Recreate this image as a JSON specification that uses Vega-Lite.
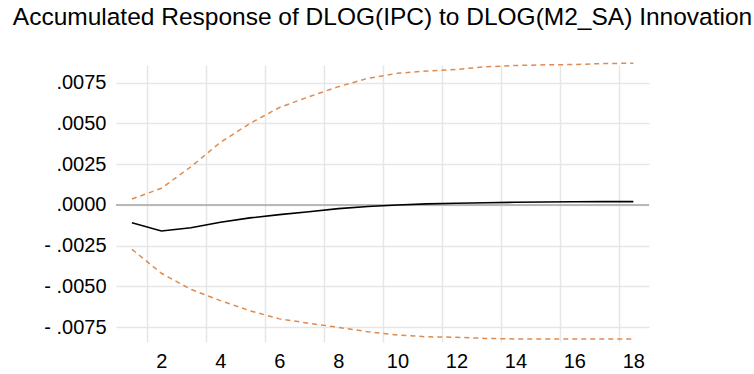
{
  "$schema": "https://vega.github.io/schema/vega-lite/v6.json",
  "width": 533,
  "height": 277,
  "autosize": {"type": "none"},
  "padding": {"left": 116, "top": 65, "right": 105, "bottom": 32},
  "background": "white",
  "title": {
    "text": "Accumulated Response of DLOG(IPC) to DLOG(M2_SA) Innovation",
    "font": "Liberation Sans",
    "fontSize": 24.5,
    "fontWeight": "normal",
    "color": "#000000",
    "anchor": "middle",
    "offset": 30
  },
  "config": {
    "view": {"stroke": null},
    "axis": {"labelFont": "Liberation Sans", "labelFontSize": 20, "labelColor": "#000000"}
  },
  "data": {
    "values": [
      {"step": 1, "response": -0.00110, "lower": -0.00273, "upper": 0.00036},
      {"step": 2, "response": -0.00160, "lower": -0.00420, "upper": 0.00102},
      {"step": 3, "response": -0.00140, "lower": -0.00519, "upper": 0.00234},
      {"step": 4, "response": -0.00107, "lower": -0.00588, "upper": 0.00384},
      {"step": 5, "response": -0.00080, "lower": -0.00650, "upper": 0.00500},
      {"step": 6, "response": -0.00060, "lower": -0.00700, "upper": 0.00598},
      {"step": 7, "response": -0.00042, "lower": -0.00727, "upper": 0.00664},
      {"step": 8, "response": -0.00023, "lower": -0.00752, "upper": 0.00726},
      {"step": 9, "response": -0.00010, "lower": -0.00779, "upper": 0.00777},
      {"step": 10, "response": -0.00001, "lower": -0.00799, "upper": 0.00808},
      {"step": 11, "response": 0.00006, "lower": -0.00810, "upper": 0.00822},
      {"step": 12, "response": 0.00010, "lower": -0.00813, "upper": 0.00832},
      {"step": 13, "response": 0.00013, "lower": -0.00820, "upper": 0.00848},
      {"step": 14, "response": 0.00016, "lower": -0.00823, "upper": 0.00856},
      {"step": 15, "response": 0.00018, "lower": -0.00824, "upper": 0.00860},
      {"step": 16, "response": 0.00019, "lower": -0.00824, "upper": 0.00862},
      {"step": 17, "response": 0.00020, "lower": -0.00824, "upper": 0.00868},
      {"step": 18, "response": 0.00020, "lower": -0.00824, "upper": 0.00870}
    ]
  },
  "encoding": {
    "x": {
      "field": "step",
      "type": "quantitative",
      "scale": {"domain": [0.46, 18.53], "nice": false, "zero": false},
      "axis": {
        "title": null,
        "values": [1.5, 2, 3.5, 4, 5.5, 6, 7.5, 8, 9.5, 10, 11.5, 12, 13.5, 14, 15.5, 16, 17.5, 18],
        "labelExpr": "datum.value % 1 == 0 ? format(datum.value, 'd') : ''",
        "domain": false,
        "ticks": false,
        "grid": true,
        "gridColor": "#E6E6E6",
        "gridWidth": 1.5,
        "gridOpacity": {"condition": {"test": "datum.value % 1 == 0", "value": 0}, "value": 1},
        "labelPadding": 9,
        "labelFlush": false,
        "labelOverlap": false
      }
    }
  },
  "layer": [
    {
      "mark": {"type": "rule", "color": "#B8B8B8", "strokeWidth": 2},
      "encoding": {"x": null, "y": {"datum": 0, "type": "quantitative"}}
    },
    {
      "mark": {"type": "line", "color": "#DD8B50", "strokeWidth": 1.5, "strokeDash": [5, 4]},
      "encoding": {
        "y": {
          "field": "upper",
          "type": "quantitative",
          "scale": {"domain": [-0.00842, 0.00859], "nice": false, "zero": false},
          "axis": {
            "title": null,
            "values": [-0.0075, -0.005, -0.0025, 0, 0.0025, 0.005, 0.0075],
            "labelExpr": "replace(replace(format(datum.value, '.4f'), '0.', '.'), '−', '- ')",
            "domain": false,
            "ticks": false,
            "grid": true,
            "gridColor": "#E6E6E6",
            "gridWidth": 1.5,
            "labelPadding": 10
          }
        }
      }
    },
    {
      "mark": {"type": "line", "color": "#DD8B50", "strokeWidth": 1.5, "strokeDash": [5, 4]},
      "encoding": {"y": {"field": "lower", "type": "quantitative"}}
    },
    {
      "mark": {"type": "line", "color": "#000000", "strokeWidth": 1.6},
      "encoding": {"y": {"field": "response", "type": "quantitative"}}
    }
  ]
}
